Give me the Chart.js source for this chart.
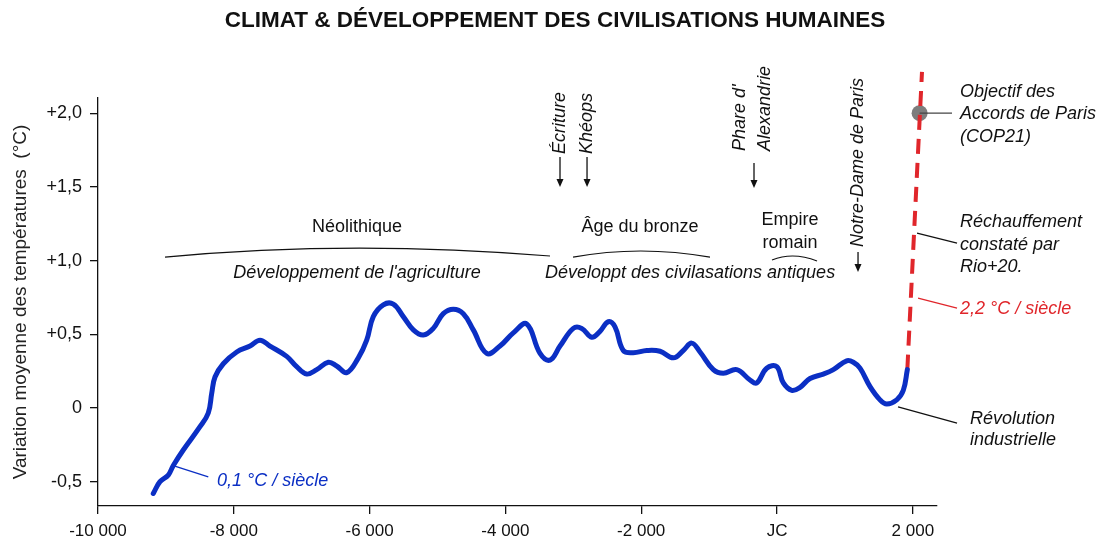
<!DOCTYPE html>
<html lang="fr">
<head>
<meta charset="utf-8">
<title>Climat &amp; développement des civilisations humaines</title>
<script src="https://cdn.jsdelivr.net/npm/chart.js@4.4.1/dist/chart.umd.min.js"></script>
<style>
  html, body { margin: 0; padding: 0; background: #fff; }
  #wrap { width: 1110px; height: 540px; position: relative; }
</style>
</head>
<body>
<div id="wrap"><canvas id="climateChart"></canvas></div>
<script>
// Years (negative = av. JC) and temperature change in °C
const years = [-9186, -9087, -8965, -8891, -8744, -8498, -8376, -8325, -8277, -8155,
  -7957, -7761, -7614, -7467, -7221, -7074, -6926, -6779, -6608, -6485,
  -6337, -6166, -6043, -5946, -5798, -5651, -5504, -5356, -5209, -5062,
  -4915, -4767, -4620, -4473, -4275, -4080, -3884, -3686, -3490, -3343,
  -3196, -3000, -2876, -2729, -2607, -2485, -2386, -2264, -2116, -1919,
  -1723, -1527, -1380, -1256, -1134, -938, -791, -594, -398, -299,
  -152, -4, 93, 217, 339, 486, 682, 829, 1026, 1124,
  1222, 1370, 1517, 1616, 1763, 1860, 1919];
const temps = [-0.58, -0.50, -0.455, -0.39, -0.285, -0.127, -0.034, 0.10, 0.21, 0.30,
  0.38, 0.42, 0.46, 0.42, 0.35, 0.28, 0.23, 0.26, 0.31, 0.285,
  0.24, 0.34, 0.46, 0.62, 0.70, 0.705, 0.62, 0.53, 0.495, 0.54,
  0.64, 0.67, 0.64, 0.53, 0.37, 0.42, 0.51, 0.57, 0.37, 0.325,
  0.42, 0.54, 0.54, 0.48, 0.52, 0.585, 0.55, 0.39, 0.375, 0.39,
  0.385, 0.34, 0.39, 0.44, 0.38, 0.26, 0.235, 0.26, 0.19, 0.17,
  0.27, 0.28, 0.17, 0.12, 0.14, 0.20, 0.23, 0.26, 0.32, 0.31,
  0.27, 0.145, 0.055, 0.027, 0.055, 0.12, 0.26];

// Recent warming (dashed red)
const warmingYears = [1919, 2135];
const warmingTemps = [0.26, 2.28];

// COP21 target
const copYears = [2100];
const copTemps = [2.0];

const xTickValues = [-10000, -8000, -6000, -4000, -2000, 0, 2000];
const xTickLabels = ['-10 000', '-8 000', '-6 000', '-4 000', '-2 000', 'JC', '2 000'];
const yTickValues = [-0.5, 0, 0.5, 1, 1.5, 2];
const yTickLabels = ['-0,5', '0', '+0,5', '+1,0', '+1,5', '+2,0'];

const FONT = '"Liberation Sans", Arial, Helvetica, sans-serif';
const BLUE = '#0b2fc4';
const RED = '#e0262b';
const INK = '#111';

const toPoints = (xs, ys) => xs.map((v, i) => ({ x: v, y: ys[i] }));

// Texts, brackets and arrows, placed in data units
const annotations = {
  id: 'annotations',
  afterDatasetsDraw(chart) {
    const ctx = chart.ctx;
    const X = v => chart.scales.x.getPixelForValue(v);
    const Y = v => chart.scales.y.getPixelForValue(v);

    function text(str, xv, yv, opt = {}) {
      ctx.save();
      ctx.font = (opt.italic ? 'italic ' : '') + (opt.size || 18) + 'px ' + FONT;
      ctx.fillStyle = opt.color || INK;
      ctx.textAlign = opt.align || 'center';
      ctx.textBaseline = 'middle';
      ctx.fillText(str, X(xv), Y(yv));
      ctx.restore();
    }
    function vtext(str, xv, yv) {
      ctx.save();
      ctx.translate(X(xv), Y(yv));
      ctx.rotate(-Math.PI / 2);
      ctx.font = 'italic 18px ' + FONT;
      ctx.fillStyle = INK;
      ctx.textAlign = 'left';
      ctx.textBaseline = 'middle';
      ctx.fillText(str, 0, 0);
      ctx.restore();
    }
    function line(x0, y0, x1, y1, color) {
      ctx.save();
      ctx.strokeStyle = color || INK;
      ctx.lineWidth = 1.3;
      ctx.beginPath();
      ctx.moveTo(X(x0), Y(y0));
      ctx.lineTo(X(x1), Y(y1));
      ctx.stroke();
      ctx.restore();
    }
    function bracket(x0, y0, xm, ym, x1, y1) {
      const cy = 2 * Y(ym) - (Y(y0) + Y(y1)) / 2;
      ctx.save();
      ctx.strokeStyle = INK;
      ctx.lineWidth = 1.2;
      ctx.beginPath();
      ctx.moveTo(X(x0), Y(y0));
      ctx.quadraticCurveTo(X(xm), cy, X(x1), Y(y1));
      ctx.stroke();
      ctx.restore();
    }
    function arrow(xv, y0, y1) {
      const px = X(xv), a = Y(y0), b = Y(y1);
      ctx.save();
      ctx.strokeStyle = INK;
      ctx.fillStyle = INK;
      ctx.lineWidth = 1.3;
      ctx.beginPath();
      ctx.moveTo(px, a);
      ctx.lineTo(px, b - 6);
      ctx.stroke();
      ctx.beginPath();
      ctx.moveTo(px - 3.5, b - 8);
      ctx.lineTo(px + 3.5, b - 8);
      ctx.lineTo(px, b);
      ctx.closePath();
      ctx.fill();
      ctx.restore();
    }

    // periods
    text('Néolithique', -6186, 1.228);
    bracket(-9013, 1.024, -6289, 1.085, -3343, 1.031);
    text("Développement de l'agriculture", -6186, 0.916, { italic: true });
    text('Âge du bronze', -2018, 1.228);
    bracket(-3004, 1.024, -2018, 1.065, -987, 1.024);
    text('Empire', 191, 1.275);
    text('romain', 191, 1.119);
    bracket(-74, 1.004, 236, 1.031, 589, 0.997);
    text('Développt des civilasations antiques', -1281, 0.916, { italic: true });

    // events
    vtext('Écriture', -3196, 1.723);
    arrow(-3196, 1.703, 1.499);
    vtext('Khéops', -2798, 1.723);
    arrow(-2798, 1.703, 1.499);
    vtext("Phare d'", -545, 1.744);
    vtext('Alexandrie', -177, 1.744);
    arrow(-339, 1.662, 1.493);
    vtext('Notre-Dame de Paris', 1193, 1.092);
    arrow(1193, 1.058, 0.923);

    // right side notes
    line(2100, 2.0, 2577, 2.0, '#444');
    text('Objectif des', 2695, 2.142, { italic: true, align: 'left' });
    text('Accords de Paris', 2695, 1.992, { italic: true, align: 'left' });
    text('(COP21)', 2695, 1.838, { italic: true, align: 'left' });

    line(2062, 1.187, 2651, 1.119);
    text('Réchauffement', 2695, 1.262, { italic: true, align: 'left' });
    text('constaté par', 2695, 1.106, { italic: true, align: 'left' });
    text('Rio+20.', 2695, 0.957, { italic: true, align: 'left' });

    line(2077, 0.746, 2651, 0.678, RED);
    text('2,2 °C / siècle', 2695, 0.672, { italic: true, align: 'left', color: RED });

    line(1782, 0.007, 2651, -0.102);
    text('Révolution', 2842, -0.075, { italic: true, align: 'left' });
    text('industrielle', 2842, -0.217, { italic: true, align: 'left' });

    line(-8915, -0.387, -8376, -0.468, BLUE);
    text('0,1 °C / siècle', -8247, -0.495, { italic: true, align: 'left', color: BLUE });
  },
  afterDraw(chart) {
    const ctx = chart.ctx;
    ctx.save();
    ctx.font = 'bold 22.5px ' + FONT;
    ctx.fillStyle = INK;
    ctx.textAlign = 'center';
    ctx.textBaseline = 'middle';
    ctx.fillText('CLIMAT & DÉVELOPPEMENT DES CIVILISATIONS HUMAINES', chart.width / 2, 21);
    ctx.restore();
  }
};

const ctx = document.getElementById('climateChart').getContext('2d');

new Chart(ctx, {
  type: 'line',
  data: {
    datasets: [
      {
        data: toPoints(copYears, copTemps),
        showLine: false,
        pointRadius: 8,
        pointBackgroundColor: '#7d7d7d',
        pointBorderWidth: 0,
        order: 3
      },
      {
        data: toPoints(warmingYears, warmingTemps),
        borderColor: RED,
        borderWidth: 4,
        borderDash: [15, 9],
        pointRadius: 0,
        order: 2
      },
      {
        data: toPoints(years, temps),
        borderColor: BLUE,
        borderWidth: 5,
        tension: 0.4,
        pointRadius: 0,
        borderCapStyle: 'round',
        borderJoinStyle: 'round',
        order: 1
      }
    ]
  },
  options: {
    responsive: true,
    maintainAspectRatio: false,
    animation: false,
    clip: false,
    layout: { padding: { top: 98, right: 173, left: 0, bottom: 0 } },
    plugins: {
      legend: { display: false },
      tooltip: { enabled: false }
    },
    scales: {
      x: {
        type: 'linear',
        min: -10000,
        max: 2356,
        afterBuildTicks: s => { s.ticks = xTickValues.map(v => ({ value: v })); },
        afterFit: s => { s.height = 34; },
        ticks: {
          autoSkip: false,
          maxRotation: 0,
          padding: 7,
          color: INK,
          font: { family: FONT, size: 17 },
          callback: v => xTickLabels[xTickValues.indexOf(v)]
        },
        grid: { drawOnChartArea: false, drawTicks: true, tickLength: 8, color: INK, lineWidth: 1.3 },
        border: { color: INK, width: 1.3 }
      },
      y: {
        min: -0.665,
        max: 2.103,
        afterBuildTicks: s => { s.ticks = yTickValues.map(v => ({ value: v })); },
        afterFit: s => { s.width = 98; },
        ticks: {
          padding: 8,
          color: INK,
          font: { family: FONT, size: 18 },
          callback: v => yTickLabels[yTickValues.indexOf(v)]
        },
        grid: { drawOnChartArea: false, drawTicks: true, tickLength: 8, color: INK, lineWidth: 1.3 },
        border: { color: INK, width: 1.3 },
        title: {
          display: true,
          text: 'Variation moyenne des températures  (°C)',
          color: '#222',
          font: { family: FONT, size: 19 },
          padding: { top: 9, bottom: 0 }
        }
      }
    }
  },
  plugins: [annotations]
});
</script>
</body>
</html>
